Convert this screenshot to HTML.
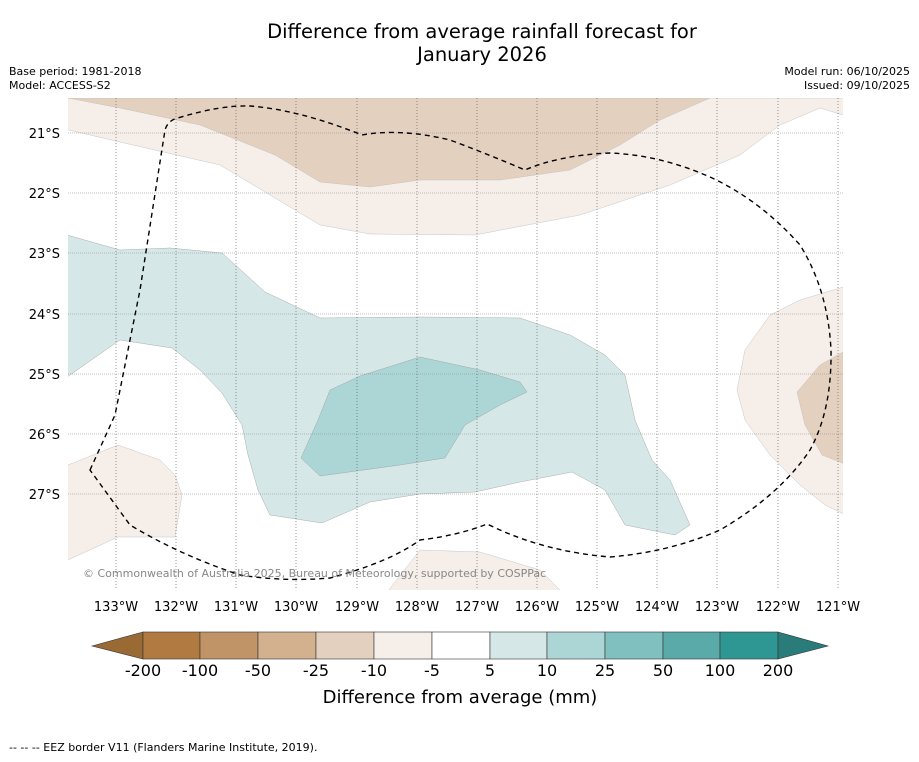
<!DOCTYPE html>
<html><head><meta charset="utf-8"><style>
body{margin:0;background:#fff;font-family:"DejaVu Sans","Liberation Sans",sans-serif}
svg text{font-family:"DejaVu Sans","Liberation Sans",sans-serif}
</style></head><body>
<svg width="919" height="758" viewBox="0 0 919 758">
<text x="482" y="38" text-anchor="middle" font-size="19.5">Difference from average rainfall forecast for</text>
<text x="482" y="61" text-anchor="middle" font-size="19.5">January 2026</text>
<text x="9" y="75" font-size="11">Base period: 1981-2018</text>
<text x="9" y="89" font-size="11">Model: ACCESS-S2</text>
<text x="910" y="75" font-size="11" text-anchor="end">Model run: 06/10/2025</text>
<text x="910" y="89" font-size="11" text-anchor="end">Issued: 09/10/2025</text>
<defs><clipPath id="mc"><rect x="68" y="98" width="775" height="492"/></clipPath></defs>
<g clip-path="url(#mc)">
<rect x="68" y="98" width="775" height="492" fill="#fff"/>
<path fill="#f5eee9" stroke="#bbb" stroke-width="0.4" d="M60,98 L60,128 L120,142 L220,165 L320,225 L370,234 L475,235 L580,215 L670,185 L740,155 L780,125 L820,108 L843,115 L850,98 Z"/>
<path fill="#e4d0bf" stroke="#bbb" stroke-width="0.4" d="M68,98 L120,108 L200,125 L275,155 L320,182 L370,187 L420,180 L500,180 L570,170 L620,145 L660,120 L710,98 Z"/>
<path fill="#f5eee9" stroke="#bbb" stroke-width="0.4" d="M60,470 L68,465 L118,445 L160,460 L175,475 L182,495 L175,537 L118,537 L68,560 L60,562 Z"/>
<path fill="#f5eee9" stroke="#bbb" stroke-width="0.4" d="M385,595 L420,550 L480,552 L540,570 L565,595 Z"/>
<path fill="#f5eee9" stroke="#bbb" stroke-width="0.4" d="M850,285 L800,300 L770,315 L745,350 L737,390 L745,420 L770,455 L800,485 L825,505 L850,517 Z"/>
<path fill="#e4d0bf" stroke="#bbb" stroke-width="0.4" d="M850,348 L820,365 L797,392 L805,425 L822,455 L850,466 Z"/>
<path fill="#d5e8e7" stroke="#999" stroke-width="0.4" d="M60,233 L120,250 L170,248 L222,253 L265,292 L320,318 L420,317 L520,318 L570,335 L605,355 L625,375 L635,420 L652,460 L670,480 L690,525 L675,535 L625,525 L605,490 L572,472 L520,482 L475,492 L420,494 L370,502 L322,523 L270,515 L258,490 L248,455 L242,425 L222,393 L200,370 L172,348 L120,340 L60,382 Z"/>
<path fill="#acd5d5" stroke="#999" stroke-width="0.4" d="M330,390 L360,376 L420,357 L480,370 L520,382 L527,392 L500,405 L465,425 L445,458 L400,465 L320,476 L301,458 L318,420 Z"/>
<g stroke="#555" stroke-width="0.6">
<g stroke-dasharray="1,2">
<line x1="116" y1="98" x2="116" y2="590"/><line x1="176" y1="98" x2="176" y2="590"/><line x1="236" y1="98" x2="236" y2="590"/><line x1="296" y1="98" x2="296" y2="590"/><line x1="357" y1="98" x2="357" y2="590"/><line x1="417" y1="98" x2="417" y2="590"/><line x1="477" y1="98" x2="477" y2="590"/><line x1="537" y1="98" x2="537" y2="590"/><line x1="597" y1="98" x2="597" y2="590"/><line x1="657" y1="98" x2="657" y2="590"/><line x1="717" y1="98" x2="717" y2="590"/><line x1="778" y1="98" x2="778" y2="590"/><line x1="838" y1="98" x2="838" y2="590"/>
</g>
<g stroke="#888" stroke-dasharray="1,1"><line x1="68" y1="133" x2="843" y2="133"/><line x1="68" y1="193" x2="843" y2="193"/><line x1="68" y1="253" x2="843" y2="253"/><line x1="68" y1="314" x2="843" y2="314"/><line x1="68" y1="374" x2="843" y2="374"/><line x1="68" y1="434" x2="843" y2="434"/><line x1="68" y1="494" x2="843" y2="494"/></g>
</g>
<path fill="none" stroke="#000" stroke-width="1.4" stroke-dasharray="5,4" d="M90,470 L115,415 L140,290 L165,130 Q168,120 178,118 Q220,105 250,106 Q300,110 362,135 Q400,128 450,140 Q490,155 525,170 Q560,155 610,153 Q660,155 710,177 Q760,200 800,245 Q828,290 831,350 Q832,410 810,450 Q780,495 720,530 Q670,552 610,557 Q550,552 500,530 L487,524 Q460,535 420,540 Q390,562 330,578 Q285,582 240,575 Q180,555 130,525 Z"/>
<text x="83" y="577" font-size="11" fill="#888">© Commonwealth of Australia 2025, Bureau of Meteorology, supported by COSPPac</text>
</g>
<g font-size="13" text-anchor="end">
<text x="60" y="138">21°S</text><text x="60" y="198">22°S</text><text x="60" y="258">23°S</text><text x="60" y="319">24°S</text><text x="60" y="379">25°S</text><text x="60" y="439">26°S</text><text x="60" y="499">27°S</text>
</g>
<g font-size="13" text-anchor="middle">
<text x="116" y="611">133°W</text><text x="176" y="611">132°W</text><text x="236" y="611">131°W</text><text x="296" y="611">130°W</text><text x="357" y="611">129°W</text><text x="417" y="611">128°W</text><text x="477" y="611">127°W</text><text x="537" y="611">126°W</text><text x="597" y="611">125°W</text><text x="657" y="611">124°W</text><text x="717" y="611">123°W</text><text x="778" y="611">122°W</text><text x="838" y="611">121°W</text>
</g>
<g stroke="#333" stroke-width="0.6">
<polygon points="92,646 143,632 143,659" fill="#9a6a35"/>
<rect x="143" y="632" width="57" height="27" fill="#b07a40"/>
<rect x="200" y="632" width="58" height="27" fill="#c19468"/>
<rect x="258" y="632" width="58" height="27" fill="#d3b08e"/>
<rect x="316" y="632" width="58" height="27" fill="#e4d0bf"/>
<rect x="374" y="632" width="58" height="27" fill="#f5eee9"/>
<rect x="432" y="632" width="58" height="27" fill="#ffffff"/>
<rect x="490" y="632" width="57" height="27" fill="#d5e8e7"/>
<rect x="547" y="632" width="58" height="27" fill="#acd5d5"/>
<rect x="605" y="632" width="58" height="27" fill="#80c0bf"/>
<rect x="663" y="632" width="57" height="27" fill="#5aaaa9"/>
<rect x="720" y="632" width="58" height="27" fill="#2e9793"/>
<polygon points="778,632 828,646 778,659" fill="#2a7c7a"/>
</g>
<g font-size="16" text-anchor="middle">
<text x="143" y="676">-200</text><text x="200" y="676">-100</text><text x="258" y="676">-50</text><text x="316" y="676">-25</text><text x="374" y="676">-10</text><text x="432" y="676">-5</text><text x="490" y="676">5</text><text x="547" y="676">10</text><text x="605" y="676">25</text><text x="663" y="676">50</text><text x="720" y="676">100</text><text x="778" y="676">200</text>
</g>
<text x="460" y="703" font-size="18" text-anchor="middle">Difference from average (mm)</text>
<text x="9" y="751" font-size="11">--  --  -- EEZ border V11 (Flanders Marine Institute, 2019).</text>
</svg>
</body></html>
